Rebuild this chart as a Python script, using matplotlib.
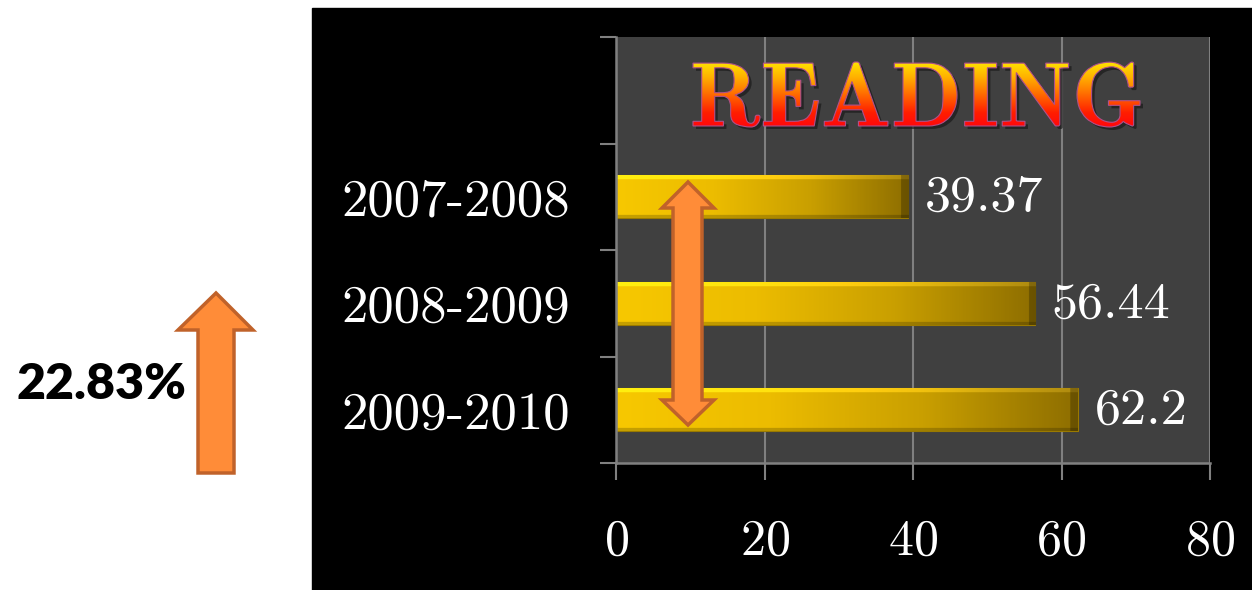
import numpy as np
import matplotlib
matplotlib.use('Agg')
import matplotlib.pyplot as plt
from matplotlib.patches import Rectangle, PathPatch, Polygon
from matplotlib.textpath import TextPath
from matplotlib.font_manager import FontProperties
from matplotlib.transforms import Affine2D
from matplotlib.colors import LinearSegmentedColormap

plt.rcParams['font.family'] = 'cmr10'
plt.rcParams['axes.formatter.use_mathtext'] = True

# data
years = ['2007-2008', '2008-2009', '2009-2010']
reading = [39.37, 56.44, 62.2]
xticks = [0, 20, 40, 60, 80]
title = 'READING'
change = '22.83%'

W, H = 1252, 590
fig = plt.figure(figsize=(W / 100, H / 100), dpi=100, facecolor='white')

# black panel behind the chart
fig.add_artist(Rectangle((312 / W, 0), (W - 312) / W, (H - 8) / H,
                         transform=fig.transFigure, color='black', zorder=-1))

ax = fig.add_axes([616 / W, 127 / H, 594 / W, 426 / H])
ax.set_facecolor('#404040')

n = len(years)
pos = np.arange(n)
h = 0.4
bars = ax.barh(pos, reading, height=h, color='#E0B000', edgecolor='#9A7A00',
               linewidth=0.8, zorder=2)

# gold gradient with a small bevel
gold = LinearSegmentedColormap.from_list('gold', ['#F7C800', '#ECBC00', '#C99F00', '#8E6E00'])
px_per_unit = 594 / 80
for b, v, i in zip(bars, reading, pos):
    cols, rows = 300, 40
    img = np.tile(gold(np.linspace(0, 1, cols))[:, :3], (rows, 1, 1))
    img[:4] = np.minimum(img[:4] * 1.12 + 0.06, 1)
    img[-3:] *= 0.8
    nb = max(1, int(cols * 8 / (v * px_per_unit)))
    img[:, -nb:] *= 0.75
    ax.imshow(img, extent=[0, v, i + h / 2, i - h / 2], aspect='auto',
              zorder=2.1, clip_path=b)
    ax.annotate(f'{v:g}', xy=(v, i), xytext=(12, -1), textcoords='offset points',
                va='center', ha='left', color='white', fontsize=37.5, zorder=4)

ax.set_xlim(0, 80)
ax.set_ylim(n - 0.5, -1.5)
ax.set_xticks(xticks)
ax.set_yticks(pos)
ax.set_yticklabels(years)
ax.set_yticks(np.arange(-1.5, n, 1), minor=True)
ax.grid(axis='x', color='#808080', linewidth=1.5, zorder=1)
ax.set_axisbelow(True)
for s in ['top', 'right']:
    ax.spines[s].set_visible(False)
for s in ['left', 'bottom']:
    ax.spines[s].set_color('#808080')
    ax.spines[s].set_linewidth(1.8)
ax.tick_params(axis='x', length=12, width=1.5, color='#808080',
               labelcolor='white', labelsize=36, pad=28)
ax.tick_params(axis='y', which='major', length=0, pad=33,
               labelcolor='white', labelsize=38)
ax.tick_params(axis='y', which='minor', length=11.5, width=1.5, color='#808080')

# overlay in pixel coordinates for the decorations
ov = fig.add_axes([0, 0, 1, 1], zorder=5)
ov.axis('off')

# gradient title
tp = TextPath((0, 0), title, size=100, prop=FontProperties(family='cmb10'))
ext = tp.get_extents()
tx0, tx1, ty0, ty1 = 693, 1140, 62, 127
sx = (tx1 - tx0) / ext.width
sy = (ty1 - ty0) / ext.height
base_t = Affine2D().translate(-ext.x0, -ext.y0).scale(sx, -sy)
shadow = PathPatch(tp, transform=base_t + Affine2D().translate(tx0 + 3, ty1 + 3) + ov.transData,
                   facecolor='#1a1a1a', edgecolor='none', alpha=0.7, zorder=1)
ov.add_patch(shadow)
tpatch = PathPatch(tp, transform=base_t + Affine2D().translate(tx0, ty1) + ov.transData,
                   facecolor='none', edgecolor='#B0508A', linewidth=0.8, zorder=3)
ov.add_patch(tpatch)
fire = LinearSegmentedColormap.from_list('fire', ['#FFF000', '#FFB400', '#FF6A00', '#FF1E00', '#FF0010'])
ov.imshow(np.linspace(0, 1, 256).reshape(-1, 1), cmap=fire,
          extent=[tx0 - 5, tx1 + 5, ty1 + 4, ty0 - 4], aspect='auto',
          zorder=2, clip_path=tpatch)

# arrows
orange, edge = '#FF8C38', '#C0622A'
up = [(198, 473), (198, 330), (178, 330), (216, 293), (253, 330), (234, 330), (234, 473)]
ov.add_patch(Polygon(up, closed=True, facecolor=orange, edgecolor=edge, linewidth=2.5, zorder=4))
cx = 688
dbl = [(cx - 15, 400), (cx - 26, 400), (cx, 425), (cx + 26, 400), (cx + 14, 400),
       (cx + 14, 208), (cx + 26, 208), (cx, 182), (cx - 26, 208), (cx - 15, 208)]
ov.add_patch(Polygon(dbl, closed=True, facecolor=orange, edgecolor=edge, linewidth=2.5, zorder=4))

ov.text(16, 399, change, fontfamily='Lato', fontweight='heavy', fontsize=36,
        color='black', ha='left', va='baseline', zorder=4)

ov.set_xlim(0, W)
ov.set_ylim(H, 0)

fig.savefig('out.png', dpi=100, facecolor='white')
